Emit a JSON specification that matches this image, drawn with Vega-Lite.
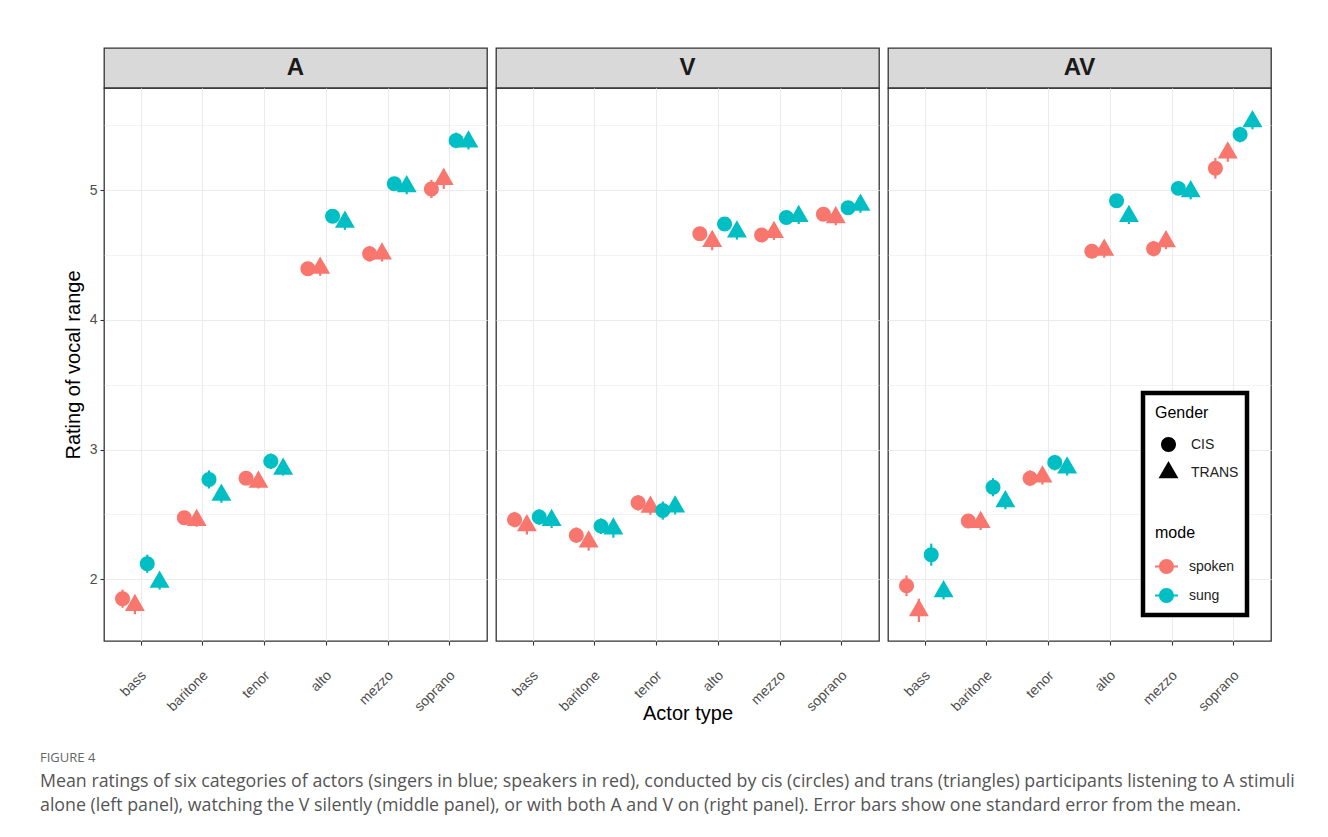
{
  "$schema": "https://vega.github.io/schema/vega-lite/v6.json",
  "background": "white",
  "padding": {"left": 40, "top": 47, "right": 0, "bottom": 0},
  "autosize": {"type": "pad"},
  "datasets": {
    "ratings": [
      {"panel":"A","actor":"bass","mode":"spoken","gender":"CIS","grp":"spoken CIS","mean":1.85,"lo":1.78,"hi":1.92},
      {"panel":"A","actor":"bass","mode":"spoken","gender":"TRANS","grp":"spoken TRANS","mean":1.80,"lo":1.73,"hi":1.87},
      {"panel":"A","actor":"bass","mode":"sung","gender":"CIS","grp":"sung CIS","mean":2.12,"lo":2.05,"hi":2.19},
      {"panel":"A","actor":"bass","mode":"sung","gender":"TRANS","grp":"sung TRANS","mean":1.98,"lo":1.92,"hi":2.04},
      {"panel":"A","actor":"baritone","mode":"spoken","gender":"CIS","grp":"spoken CIS","mean":2.475,"lo":2.425,"hi":2.525},
      {"panel":"A","actor":"baritone","mode":"spoken","gender":"TRANS","grp":"spoken TRANS","mean":2.455,"lo":2.405,"hi":2.505},
      {"panel":"A","actor":"baritone","mode":"sung","gender":"CIS","grp":"sung CIS","mean":2.77,"lo":2.70,"hi":2.84},
      {"panel":"A","actor":"baritone","mode":"sung","gender":"TRANS","grp":"sung TRANS","mean":2.65,"lo":2.59,"hi":2.71},
      {"panel":"A","actor":"tenor","mode":"spoken","gender":"CIS","grp":"spoken CIS","mean":2.78,"lo":2.73,"hi":2.83},
      {"panel":"A","actor":"tenor","mode":"spoken","gender":"TRANS","grp":"spoken TRANS","mean":2.75,"lo":2.70,"hi":2.80},
      {"panel":"A","actor":"tenor","mode":"sung","gender":"CIS","grp":"sung CIS","mean":2.91,"lo":2.85,"hi":2.97},
      {"panel":"A","actor":"tenor","mode":"sung","gender":"TRANS","grp":"sung TRANS","mean":2.85,"lo":2.80,"hi":2.90},
      {"panel":"A","actor":"alto","mode":"spoken","gender":"CIS","grp":"spoken CIS","mean":4.395,"lo":4.345,"hi":4.445},
      {"panel":"A","actor":"alto","mode":"spoken","gender":"TRANS","grp":"spoken TRANS","mean":4.40,"lo":4.34,"hi":4.46},
      {"panel":"A","actor":"alto","mode":"sung","gender":"CIS","grp":"sung CIS","mean":4.80,"lo":4.75,"hi":4.85},
      {"panel":"A","actor":"alto","mode":"sung","gender":"TRANS","grp":"sung TRANS","mean":4.755,"lo":4.695,"hi":4.815},
      {"panel":"A","actor":"mezzo","mode":"spoken","gender":"CIS","grp":"spoken CIS","mean":4.51,"lo":4.45,"hi":4.57},
      {"panel":"A","actor":"mezzo","mode":"spoken","gender":"TRANS","grp":"spoken TRANS","mean":4.51,"lo":4.45,"hi":4.57},
      {"panel":"A","actor":"mezzo","mode":"sung","gender":"CIS","grp":"sung CIS","mean":5.05,"lo":5.00,"hi":5.10},
      {"panel":"A","actor":"mezzo","mode":"sung","gender":"TRANS","grp":"sung TRANS","mean":5.03,"lo":4.97,"hi":5.09},
      {"panel":"A","actor":"soprano","mode":"spoken","gender":"CIS","grp":"spoken CIS","mean":5.01,"lo":4.94,"hi":5.08},
      {"panel":"A","actor":"soprano","mode":"spoken","gender":"TRANS","grp":"spoken TRANS","mean":5.085,"lo":5.01,"hi":5.16},
      {"panel":"A","actor":"soprano","mode":"sung","gender":"CIS","grp":"sung CIS","mean":5.385,"lo":5.325,"hi":5.445},
      {"panel":"A","actor":"soprano","mode":"sung","gender":"TRANS","grp":"sung TRANS","mean":5.375,"lo":5.315,"hi":5.435},

      {"panel":"V","actor":"bass","mode":"spoken","gender":"CIS","grp":"spoken CIS","mean":2.46,"lo":2.40,"hi":2.52},
      {"panel":"V","actor":"bass","mode":"spoken","gender":"TRANS","grp":"spoken TRANS","mean":2.415,"lo":2.345,"hi":2.485},
      {"panel":"V","actor":"bass","mode":"sung","gender":"CIS","grp":"sung CIS","mean":2.48,"lo":2.42,"hi":2.54},
      {"panel":"V","actor":"bass","mode":"sung","gender":"TRANS","grp":"sung TRANS","mean":2.455,"lo":2.395,"hi":2.515},
      {"panel":"V","actor":"baritone","mode":"spoken","gender":"CIS","grp":"spoken CIS","mean":2.34,"lo":2.28,"hi":2.40},
      {"panel":"V","actor":"baritone","mode":"spoken","gender":"TRANS","grp":"spoken TRANS","mean":2.29,"lo":2.22,"hi":2.36},
      {"panel":"V","actor":"baritone","mode":"sung","gender":"CIS","grp":"sung CIS","mean":2.41,"lo":2.35,"hi":2.47},
      {"panel":"V","actor":"baritone","mode":"sung","gender":"TRANS","grp":"sung TRANS","mean":2.39,"lo":2.32,"hi":2.46},
      {"panel":"V","actor":"tenor","mode":"spoken","gender":"CIS","grp":"spoken CIS","mean":2.59,"lo":2.53,"hi":2.65},
      {"panel":"V","actor":"tenor","mode":"spoken","gender":"TRANS","grp":"spoken TRANS","mean":2.557,"lo":2.497,"hi":2.617},
      {"panel":"V","actor":"tenor","mode":"sung","gender":"CIS","grp":"sung CIS","mean":2.53,"lo":2.46,"hi":2.60},
      {"panel":"V","actor":"tenor","mode":"sung","gender":"TRANS","grp":"sung TRANS","mean":2.56,"lo":2.50,"hi":2.62},
      {"panel":"V","actor":"alto","mode":"spoken","gender":"CIS","grp":"spoken CIS","mean":4.665,"lo":4.615,"hi":4.715},
      {"panel":"V","actor":"alto","mode":"spoken","gender":"TRANS","grp":"spoken TRANS","mean":4.608,"lo":4.538,"hi":4.678},
      {"panel":"V","actor":"alto","mode":"sung","gender":"CIS","grp":"sung CIS","mean":4.74,"lo":4.69,"hi":4.79},
      {"panel":"V","actor":"alto","mode":"sung","gender":"TRANS","grp":"sung TRANS","mean":4.68,"lo":4.62,"hi":4.74},
      {"panel":"V","actor":"mezzo","mode":"spoken","gender":"CIS","grp":"spoken CIS","mean":4.655,"lo":4.605,"hi":4.705},
      {"panel":"V","actor":"mezzo","mode":"spoken","gender":"TRANS","grp":"spoken TRANS","mean":4.677,"lo":4.617,"hi":4.737},
      {"panel":"V","actor":"mezzo","mode":"sung","gender":"CIS","grp":"sung CIS","mean":4.79,"lo":4.74,"hi":4.84},
      {"panel":"V","actor":"mezzo","mode":"sung","gender":"TRANS","grp":"sung TRANS","mean":4.80,"lo":4.74,"hi":4.86},
      {"panel":"V","actor":"soprano","mode":"spoken","gender":"CIS","grp":"spoken CIS","mean":4.815,"lo":4.765,"hi":4.865},
      {"panel":"V","actor":"soprano","mode":"spoken","gender":"TRANS","grp":"spoken TRANS","mean":4.79,"lo":4.73,"hi":4.85},
      {"panel":"V","actor":"soprano","mode":"sung","gender":"CIS","grp":"sung CIS","mean":4.865,"lo":4.815,"hi":4.915},
      {"panel":"V","actor":"soprano","mode":"sung","gender":"TRANS","grp":"sung TRANS","mean":4.887,"lo":4.827,"hi":4.947},

      {"panel":"AV","actor":"bass","mode":"spoken","gender":"CIS","grp":"spoken CIS","mean":1.95,"lo":1.87,"hi":2.03},
      {"panel":"AV","actor":"bass","mode":"spoken","gender":"TRANS","grp":"spoken TRANS","mean":1.76,"lo":1.67,"hi":1.85},
      {"panel":"AV","actor":"bass","mode":"sung","gender":"CIS","grp":"sung CIS","mean":2.19,"lo":2.105,"hi":2.275},
      {"panel":"AV","actor":"bass","mode":"sung","gender":"TRANS","grp":"sung TRANS","mean":1.905,"lo":1.845,"hi":1.965},
      {"panel":"AV","actor":"baritone","mode":"spoken","gender":"CIS","grp":"spoken CIS","mean":2.45,"lo":2.40,"hi":2.50},
      {"panel":"AV","actor":"baritone","mode":"spoken","gender":"TRANS","grp":"spoken TRANS","mean":2.44,"lo":2.38,"hi":2.50},
      {"panel":"AV","actor":"baritone","mode":"sung","gender":"CIS","grp":"sung CIS","mean":2.71,"lo":2.64,"hi":2.78},
      {"panel":"AV","actor":"baritone","mode":"sung","gender":"TRANS","grp":"sung TRANS","mean":2.60,"lo":2.54,"hi":2.66},
      {"panel":"AV","actor":"tenor","mode":"spoken","gender":"CIS","grp":"spoken CIS","mean":2.78,"lo":2.72,"hi":2.84},
      {"panel":"AV","actor":"tenor","mode":"spoken","gender":"TRANS","grp":"spoken TRANS","mean":2.79,"lo":2.73,"hi":2.85},
      {"panel":"AV","actor":"tenor","mode":"sung","gender":"CIS","grp":"sung CIS","mean":2.90,"lo":2.84,"hi":2.96},
      {"panel":"AV","actor":"tenor","mode":"sung","gender":"TRANS","grp":"sung TRANS","mean":2.86,"lo":2.80,"hi":2.92},
      {"panel":"AV","actor":"alto","mode":"spoken","gender":"CIS","grp":"spoken CIS","mean":4.53,"lo":4.48,"hi":4.58},
      {"panel":"AV","actor":"alto","mode":"spoken","gender":"TRANS","grp":"spoken TRANS","mean":4.54,"lo":4.48,"hi":4.60},
      {"panel":"AV","actor":"alto","mode":"sung","gender":"CIS","grp":"sung CIS","mean":4.92,"lo":4.87,"hi":4.97},
      {"panel":"AV","actor":"alto","mode":"sung","gender":"TRANS","grp":"sung TRANS","mean":4.80,"lo":4.74,"hi":4.86},
      {"panel":"AV","actor":"mezzo","mode":"spoken","gender":"CIS","grp":"spoken CIS","mean":4.55,"lo":4.49,"hi":4.61},
      {"panel":"AV","actor":"mezzo","mode":"spoken","gender":"TRANS","grp":"spoken TRANS","mean":4.606,"lo":4.546,"hi":4.666},
      {"panel":"AV","actor":"mezzo","mode":"sung","gender":"CIS","grp":"sung CIS","mean":5.015,"lo":4.965,"hi":5.065},
      {"panel":"AV","actor":"mezzo","mode":"sung","gender":"TRANS","grp":"sung TRANS","mean":4.99,"lo":4.93,"hi":5.05},
      {"panel":"AV","actor":"soprano","mode":"spoken","gender":"CIS","grp":"spoken CIS","mean":5.17,"lo":5.09,"hi":5.25},
      {"panel":"AV","actor":"soprano","mode":"spoken","gender":"TRANS","grp":"spoken TRANS","mean":5.29,"lo":5.22,"hi":5.36},
      {"panel":"AV","actor":"soprano","mode":"sung","gender":"CIS","grp":"sung CIS","mean":5.43,"lo":5.37,"hi":5.49},
      {"panel":"AV","actor":"soprano","mode":"sung","gender":"TRANS","grp":"sung TRANS","mean":5.53,"lo":5.47,"hi":5.59}
    ]
  },
  "title": {
    "text": "FIGURE 4",
    "subtitle": [
      "Mean ratings of six categories of actors (singers in blue; speakers in red), conducted by cis (circles) and trans (triangles) participants listening to A stimuli",
      "alone (left panel), watching the V silently (middle panel), or with both A and V on (right panel). Error bars show one standard error from the mean."
    ],
    "orient": "bottom",
    "anchor": "start",
    "frame": "group",
    "dx": -64,
    "offset": 28,
    "font": "Open Sans",
    "fontSize": 13,
    "fontWeight": "normal",
    "color": "#666666",
    "subtitleFont": "Open Sans",
    "subtitleFontSize": 17.8,
    "subtitleColor": "#555555",
    "subtitleLineHeight": 24,
    "subtitlePadding": 8
  },
  "spacing": 7,
  "hconcat": [
    {
      "spacing": 0,
      "bounds": "flush",
      "vconcat": [
        {
          "width": 383, "height": 40,
          "view": {"fill": "#d9d9d9", "stroke": "#333333", "strokeWidth": 1.3},
          "data": {"values": [{"panel": "A"}]},
          "mark": {"type": "text", "fontSize": 24, "fontWeight": "bold", "color": "#1a1a1a", "align": "center", "baseline": "middle"},
          "encoding": {"text": {"field": "panel"}}
        },
        {
          "width": 383, "height": 553,
          "data": {"name": "ratings"},
          "transform": [{"filter": "datum.panel === 'A'"}],
          "encoding": {
            "x": {"field": "actor", "type": "nominal", "sort": ["bass", "baritone", "tenor", "alto", "mezzo", "soprano"],
                  "scale": {"type": "band", "paddingInner": 0, "paddingOuter": 0.1},
                  "axis": {"title": null, "labelAngle": -45, "labelAlign": "right", "labelBaseline": "middle", "labelPadding": 28, "labelOffset": 3, "labelFontSize": 14, "grid": true, "gridWidth": 1.1}},
            "xOffset": {"field": "grp", "type": "nominal", "sort": ["spoken CIS", "spoken TRANS", "sung CIS", "sung TRANS"], "scale": {"type": "point", "padding": 1}},
            "color": {"field": "mode", "type": "nominal", "scale": {"domain": ["spoken", "sung"], "range": ["#F8766D", "#00BFC4"]},
                      "legend": {"orient": "none", "legendX": 1039, "legendY": 345, "title": ["Gender", "mode"], "titleLineHeight": 120, "titleFontSize": 16, "titleFontWeight": "normal", "titleColor": "#000000", "titlePadding": 14,
                                 "symbolType": "M-1,-0.09L1,-0.09L1,0.09L-1,0.09Z M0.65,0A0.65,0.65,0,1,1,-0.65,0A0.65,0.65,0,1,1,0.65,0Z",
                                 "symbolSize": 529, "symbolStrokeWidth": 0, "labelFontSize": 14, "labelColor": "#222222", "labelOffset": 11, "rowPadding": 10, "padding": 12,
                                 "strokeColor": "#000000", "fillColor": "#ffffff", "zindex": 1}}
          },
          "layer": [
            {
              "mark": {"type": "point", "filled": true, "opacity": 1, "size": 529},
              "encoding": {
                "y": {"field": "mean", "type": "quantitative", "scale": {"domain": [1.524, 5.789], "nice": false, "zero": false},
                      "axis": {"title": "Rating of vocal range", "titleFontSize": 20, "titlePadding": 6, "values": [1.5, 2, 2.5, 3, 3.5, 4, 4.5, 5, 5.5],
                               "labelExpr": "datum.value % 1 === 0 ? format(datum.value, 'd') : ''", "labelFontSize": 14, "labelPadding": 3,
                               "tickOpacity": {"condition": {"test": "datum.value % 1 !== 0", "value": 0}, "value": 1},
                               "grid": true, "gridWidth": {"condition": {"test": "datum.value % 1 === 0", "value": 1.1}, "value": 0.6}}},
                "shape": {"field": "gender", "type": "nominal",
                          "scale": {"domain": ["CIS", "TRANS"], "range": ["M0.65,0A0.65,0.65,0,1,1,-0.65,0A0.65,0.65,0,1,1,0.65,0Z", "M0,-1L0.866,0.5L-0.866,0.5Z"]},
                          "legend": {"orient": "none", "legendX": 1053, "legendY": 385, "title": null, "symbolSize": 529, "symbolFillColor": "#000000", "symbolStrokeWidth": 0, "labelFontSize": 14, "labelColor": "#222222", "labelOffset": 11, "rowPadding": 9, "padding": 0, "zindex": 2}}
              }
            },
            {
              "mark": {"type": "rule", "strokeWidth": 2.2},
              "encoding": {"y": {"field": "lo", "type": "quantitative"}, "y2": {"field": "hi"}}
            }
          ]
        }
      ]
    },
    {
      "spacing": 0,
      "bounds": "flush",
      "vconcat": [
        {
          "width": 383, "height": 40,
          "view": {"fill": "#d9d9d9", "stroke": "#333333", "strokeWidth": 1.3},
          "data": {"values": [{"panel": "V"}]},
          "mark": {"type": "text", "fontSize": 24, "fontWeight": "bold", "color": "#1a1a1a", "align": "center", "baseline": "middle"},
          "encoding": {"text": {"field": "panel"}}
        },
        {
          "width": 383, "height": 553,
          "data": {"name": "ratings"},
          "transform": [{"filter": "datum.panel === 'V'"}],
          "encoding": {
            "x": {"field": "actor", "type": "nominal", "sort": ["bass", "baritone", "tenor", "alto", "mezzo", "soprano"],
                  "scale": {"type": "band", "paddingInner": 0, "paddingOuter": 0.1},
                  "axis": {"title": "Actor type", "titleFontSize": 20, "titleY": 62, "titleBaseline": "top", "labelAngle": -45, "labelAlign": "right", "labelBaseline": "middle", "labelPadding": 28, "labelOffset": 3, "labelFontSize": 14, "grid": true, "gridWidth": 1.1}},
            "xOffset": {"field": "grp", "type": "nominal", "sort": ["spoken CIS", "spoken TRANS", "sung CIS", "sung TRANS"], "scale": {"type": "point", "padding": 1}},
            "color": {"field": "mode", "type": "nominal", "scale": {"domain": ["spoken", "sung"], "range": ["#F8766D", "#00BFC4"]},
                      "legend": {"orient": "none", "legendX": 1039, "legendY": 345, "title": ["Gender", "mode"], "titleLineHeight": 120, "titleFontSize": 16, "titleFontWeight": "normal", "titleColor": "#000000", "titlePadding": 14,
                                 "symbolType": "M-1,-0.09L1,-0.09L1,0.09L-1,0.09Z M0.65,0A0.65,0.65,0,1,1,-0.65,0A0.65,0.65,0,1,1,0.65,0Z",
                                 "symbolSize": 529, "symbolStrokeWidth": 0, "labelFontSize": 14, "labelColor": "#222222", "labelOffset": 11, "rowPadding": 10, "padding": 12,
                                 "strokeColor": "#000000", "fillColor": "#ffffff", "zindex": 1}}
          },
          "layer": [
            {
              "mark": {"type": "point", "filled": true, "opacity": 1, "size": 529},
              "encoding": {
                "y": {"field": "mean", "type": "quantitative", "scale": {"domain": [1.524, 5.789], "nice": false, "zero": false},
                      "axis": {"title": null, "labels": false, "ticks": false, "values": [1.5, 2, 2.5, 3, 3.5, 4, 4.5, 5, 5.5],
                               "grid": true, "gridWidth": {"condition": {"test": "datum.value % 1 === 0", "value": 1.1}, "value": 0.6}}},
                "shape": {"field": "gender", "type": "nominal",
                          "scale": {"domain": ["CIS", "TRANS"], "range": ["M0.65,0A0.65,0.65,0,1,1,-0.65,0A0.65,0.65,0,1,1,0.65,0Z", "M0,-1L0.866,0.5L-0.866,0.5Z"]},
                          "legend": {"orient": "none", "legendX": 1053, "legendY": 385, "title": null, "symbolSize": 529, "symbolFillColor": "#000000", "symbolStrokeWidth": 0, "labelFontSize": 14, "labelColor": "#222222", "labelOffset": 11, "rowPadding": 9, "padding": 0, "zindex": 2}}
              }
            },
            {
              "mark": {"type": "rule", "strokeWidth": 2.2},
              "encoding": {"y": {"field": "lo", "type": "quantitative"}, "y2": {"field": "hi"}}
            }
          ]
        }
      ]
    },
    {
      "spacing": 0,
      "bounds": "flush",
      "vconcat": [
        {
          "width": 383, "height": 40,
          "view": {"fill": "#d9d9d9", "stroke": "#333333", "strokeWidth": 1.3},
          "data": {"values": [{"panel": "AV"}]},
          "mark": {"type": "text", "fontSize": 24, "fontWeight": "bold", "color": "#1a1a1a", "align": "center", "baseline": "middle"},
          "encoding": {"text": {"field": "panel"}}
        },
        {
          "width": 383, "height": 553,
          "data": {"name": "ratings"},
          "transform": [{"filter": "datum.panel === 'AV'"}],
          "encoding": {
            "x": {"field": "actor", "type": "nominal", "sort": ["bass", "baritone", "tenor", "alto", "mezzo", "soprano"],
                  "scale": {"type": "band", "paddingInner": 0, "paddingOuter": 0.1},
                  "axis": {"title": null, "labelAngle": -45, "labelAlign": "right", "labelBaseline": "middle", "labelPadding": 28, "labelOffset": 3, "labelFontSize": 14, "grid": true, "gridWidth": 1.1}},
            "xOffset": {"field": "grp", "type": "nominal", "sort": ["spoken CIS", "spoken TRANS", "sung CIS", "sung TRANS"], "scale": {"type": "point", "padding": 1}},
            "color": {"field": "mode", "type": "nominal", "scale": {"domain": ["spoken", "sung"], "range": ["#F8766D", "#00BFC4"]},
                      "legend": {"orient": "none", "legendX": 1039, "legendY": 345, "title": ["Gender", "mode"], "titleLineHeight": 120, "titleFontSize": 16, "titleFontWeight": "normal", "titleColor": "#000000", "titlePadding": 14,
                                 "symbolType": "M-1,-0.09L1,-0.09L1,0.09L-1,0.09Z M0.65,0A0.65,0.65,0,1,1,-0.65,0A0.65,0.65,0,1,1,0.65,0Z",
                                 "symbolSize": 529, "symbolStrokeWidth": 0, "labelFontSize": 14, "labelColor": "#222222", "labelOffset": 11, "rowPadding": 10, "padding": 12,
                                 "strokeColor": "#000000", "fillColor": "#ffffff", "zindex": 1}}
          },
          "layer": [
            {
              "mark": {"type": "point", "filled": true, "opacity": 1, "size": 529},
              "encoding": {
                "y": {"field": "mean", "type": "quantitative", "scale": {"domain": [1.524, 5.789], "nice": false, "zero": false},
                      "axis": {"title": null, "labels": false, "ticks": false, "values": [1.5, 2, 2.5, 3, 3.5, 4, 4.5, 5, 5.5],
                               "grid": true, "gridWidth": {"condition": {"test": "datum.value % 1 === 0", "value": 1.1}, "value": 0.6}}},
                "shape": {"field": "gender", "type": "nominal",
                          "scale": {"domain": ["CIS", "TRANS"], "range": ["M0.65,0A0.65,0.65,0,1,1,-0.65,0A0.65,0.65,0,1,1,0.65,0Z", "M0,-1L0.866,0.5L-0.866,0.5Z"]},
                          "legend": {"orient": "none", "legendX": 1053, "legendY": 385, "title": null, "symbolSize": 529, "symbolFillColor": "#000000", "symbolStrokeWidth": 0, "labelFontSize": 14, "labelColor": "#222222", "labelOffset": 11, "rowPadding": 9, "padding": 0, "zindex": 2}}
              }
            },
            {
              "mark": {"type": "rule", "strokeWidth": 2.2},
              "encoding": {"y": {"field": "lo", "type": "quantitative"}, "y2": {"field": "hi"}}
            }
          ]
        }
      ]
    }
  ],
  "config": {
    "font": "Liberation Sans",
    "view": {"stroke": "#333333", "strokeWidth": 1.3},
    "axis": {"domain": false, "gridColor": "#ebebeb", "tickColor": "#333333", "tickSize": 4, "tickWidth": 1.1, "labelColor": "#4d4d4d", "labelFont": "Liberation Sans", "titleFont": "Liberation Sans", "titleFontWeight": "normal", "titleColor": "#000000"},
    "legend": {"labelFont": "Liberation Sans", "titleFont": "Liberation Sans", "strokeWidth": 4.5}
  }
}
